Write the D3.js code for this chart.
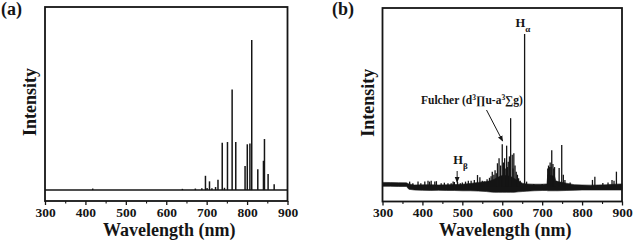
<!DOCTYPE html>
<html>
<head>
<meta charset="utf-8">
<script src="https://cdn.jsdelivr.net/npm/d3@7"></script>
<style>
  body { margin: 0; background: #fff; }
  svg { display: block; }
</style>
</head>
<body>
<svg id="chart" width="635" height="242"></svg>
<script>
// ---- data ----
var majorTicks = [300, 400, 500, 600, 700, 800, 900];
var minorTicks = [350, 450, 550, 650, 750, 850];

// panel (a): emission lines (nm, relative height)
var aPeakWl = [418, 640, 672, 688, 697, 701, 707, 713, 722, 728, 738.5, 744, 751.5, 763, 772, 795, 800.5, 807, 811.5, 826.5, 840.5, 843, 852, 867];
var aPeakH  = [1, 0.8, 1, 1.2, 9.5, 1.3, 5.8, 1.2, 2, 6.8, 31.5, 1.5, 32, 67, 32, 16, 30.5, 31, 100, 13.8, 19.5, 34, 10.7, 3.8];

// panel (b): noisy background envelope
var bBandWl = [300, 320, 340, 360, 366, 380, 400, 420, 440, 460, 480, 500, 520, 540, 560, 570, 580, 590, 600, 610, 620, 630, 640, 650, 660, 680, 700, 712, 714, 731, 734, 740, 760, 780, 800, 820, 840, 860, 880, 900];
var bBandHi = [3.0, 2.9, 2.8, 2.7, 2.0, 1.3, 1.4, 1.5, 1.3, 1.4, 1.6, 1.8, 2.3, 3, 3.5, 4, 5, 6.5, 7.5, 7.5, 7, 5.5, 4, 2.5, 2, 1.8, 1.8, 2, 8, 7, 4, 3.5, 2.5, 1.5, 1.3, 1.2, 1.3, 1.4, 1.8, 2];
var bBandLo = [0.4, 0.4, 0.3, 0.3, -1.5, -2.0, -2.2, -2.3, -2.2, -2.3, -2.3, -2.5, -2.5, -2.7, -3, -3.3, -3.5, -3.5, -3.5, -3.5, -3.5, -3.5, -3.2, -3, -2.8, -2.5, -2.3, -2.3, -2.5, -2.5, -2.5, -2.5, -2.3, -2.2, -2, -2, -2, -2, -2, -2];

// panel (b): lines
var bPeakWl = [368, 376, 389, 396, 406, 414, 418, 422, 431, 435, 447, 455, 464, 472, 477, 480, 488, 495, 500, 508, 515, 522, 530, 538, 544, 550, 555, 562, 568, 572, 575, 579, 582, 585, 588, 592, 596, 600, 603, 606, 609, 611, 613, 615, 618, 621, 625, 627, 629, 632, 635, 638, 641, 645, 656, 661, 679, 700, 714, 716, 718, 720, 722, 724, 727, 729, 731, 742.5, 749, 753, 757, 770, 826, 832, 852, 865, 875, 880, 886];
var bPeakH  = [3.5, 2.5, 3.5, 2.5, 3.5, 4, 3.5, 4, 3.5, 3.8, 2.4, 2.8, 2.5, 2.5, 3.5, 3.3, 3.3, 2.5, 3, 3.5, 4, 4, 4.6, 7.8, 6.3, 4, 3.5, 5, 6, 7, 10, 8, 11, 9, 15.5, 18.8, 14, 28, 16, 18.8, 12, 27, 13, 16.5, 20, 45, 21, 12, 22, 14, 10, 8, 5.7, 4, 100, 3.5, 2, 2, 12, 14, 13, 16, 13, 24, 15, 12, 13, 12.4, 27.5, 8, 4.6, 3, 4.6, 6.7, 2.6, 3, 4.6, 4, 10];

var svg = d3.select('#chart');
var ink = '#151515';

function label(sel, size) {
  return sel.style('font-family', 'Liberation Serif').style('font-weight', 'bold')
    .style('font-size', size + 'px').attr('fill', ink);
}

function drawFrame(x, y, tag, tagX) {
  var g = svg.append('g');
  var x0 = x.range()[0], x1 = x.range()[1];
  var y0 = y.range()[0], y1 = y.range()[1];

  // outward ticks on the bottom edge
  g.append('g')
    .attr('transform', 'translate(0,' + y0 + ')')
    .call(d3.axisBottom(x).tickValues(majorTicks).tickSize(4).tickSizeOuter(0).tickPadding(2))
    .call(s => s.select('.domain').remove())
    .call(s => s.selectAll('line').attr('stroke', ink).attr('stroke-width', 1.3))
    .call(s => s.selectAll('text').call(label, 13.5));
  g.append('g')
    .attr('transform', 'translate(0,' + y0 + ')')
    .call(d3.axisBottom(x).tickValues(minorTicks).tickSize(2.5).tickSizeOuter(0).tickFormat(''))
    .call(s => s.select('.domain').remove())
    .call(s => s.selectAll('line').attr('stroke', ink).attr('stroke-width', 1.1));

  g.append('rect')
    .attr('x', x0).attr('y', y1)
    .attr('width', x1 - x0).attr('height', y0 - y1)
    .attr('fill', 'none').attr('stroke', ink).attr('stroke-width', 1.8);

  g.append('text')
    .attr('x', (x0 + x1) / 2 + 3).attr('y', 236)
    .attr('text-anchor', 'middle')
    .call(label, 18)
    .text('Wavelength (nm)');

  g.append('text')
    .attr('transform', 'translate(' + (x0 - 9) + ',' + ((y0 + y1) / 2 - 2) + ') rotate(-90)')
    .attr('text-anchor', 'middle')
    .call(label, 18)
    .text('Intensity');

  g.append('text')
    .attr('x', tagX).attr('y', 15)
    .call(label, 18)
    .text(tag);
}

// ---------- panel (a) ----------
var xa = d3.scaleLinear().domain([300, 900]).range([45, 287.5]);
var ya = d3.scaleLinear().domain([-7.3, 122]).range([201, 7]);

drawFrame(xa, ya, '(a)', 1);

svg.append('line')
  .attr('x1', xa(300)).attr('x2', xa(900))
  .attr('y1', ya(0)).attr('y2', ya(0))
  .attr('stroke', ink).attr('stroke-width', 1.6);

svg.append('g').selectAll('line')
  .data(aPeakWl.map((w, i) => ({w: w, h: aPeakH[i]})))
  .join('line')
  .attr('x1', d => xa(d.w)).attr('x2', d => xa(d.w))
  .attr('y1', ya(0)).attr('y2', d => ya(d.h))
  .attr('stroke', ink).attr('stroke-width', 1.5);

// ---------- panel (b) ----------
var xb = d3.scaleLinear().domain([300, 900]).range([382.5, 622]);
var yb = d3.scaleLinear().domain([-9.5, 117]).range([201.5, 8]);

drawFrame(xb, yb, '(b)', 332);

var band = d3.area()
  .x((d, i) => xb(bBandWl[i]))
  .y0((d, i) => yb(bBandLo[i]))
  .y1((d, i) => yb(bBandHi[i]));

svg.append('path')
  .datum(bBandWl)
  .attr('d', band)
  .attr('fill', ink).attr('stroke', ink).attr('stroke-width', 0.6);

svg.append('g').selectAll('line')
  .data(bPeakWl.map((w, i) => ({w: w, h: bPeakH[i]})))
  .join('line')
  .attr('x1', d => xb(d.w)).attr('x2', d => xb(d.w))
  .attr('y1', yb(0)).attr('y2', d => yb(d.h))
  .attr('stroke', ink).attr('stroke-width', 1.3);

// arrows
svg.append('defs').append('marker')
  .attr('id', 'head').attr('viewBox', '0 0 10 10')
  .attr('refX', 9).attr('refY', 5)
  .attr('markerWidth', 6).attr('markerHeight', 6)
  .attr('orient', 'auto')
  .append('path').attr('d', 'M0,1 L10,5 L0,9 Z').attr('fill', ink);

svg.append('line')
  .attr('x1', 486.5).attr('y1', 110)
  .attr('x2', xb(601)).attr('y2', yb(30))
  .attr('stroke', ink).attr('stroke-width', 1)
  .attr('marker-end', 'url(#head)');

svg.append('line')
  .attr('x1', xb(487)).attr('y1', 171)
  .attr('x2', xb(487)).attr('y2', yb(3))
  .attr('stroke', ink).attr('stroke-width', 1)
  .attr('marker-end', 'url(#head)');

// labels
var fl = svg.append('text').attr('x', 421).attr('y', 104).call(label, 11.5);
fl.append('tspan').text('Fulcher (d');
fl.append('tspan').attr('baseline-shift', 'super').style('font-size', '7.5px').text('3');
fl.append('tspan').text('\u220Fu-a');
fl.append('tspan').attr('baseline-shift', 'super').style('font-size', '7.5px').text('3');
fl.append('tspan').text('\u2211g)');

var ha = svg.append('text').attr('x', xb(656) - 9).attr('y', 27).call(label, 12.5);
ha.append('tspan').text('H');
ha.append('tspan').attr('baseline-shift', 'sub').style('font-size', '9px').text('\u03B1');

var hb = svg.append('text').attr('x', xb(487) - 4).attr('y', 164).call(label, 12.5);
hb.append('tspan').text('H');
hb.append('tspan').attr('baseline-shift', 'sub').style('font-size', '9px').text('\u03B2');
</script>
</body>
</html>
